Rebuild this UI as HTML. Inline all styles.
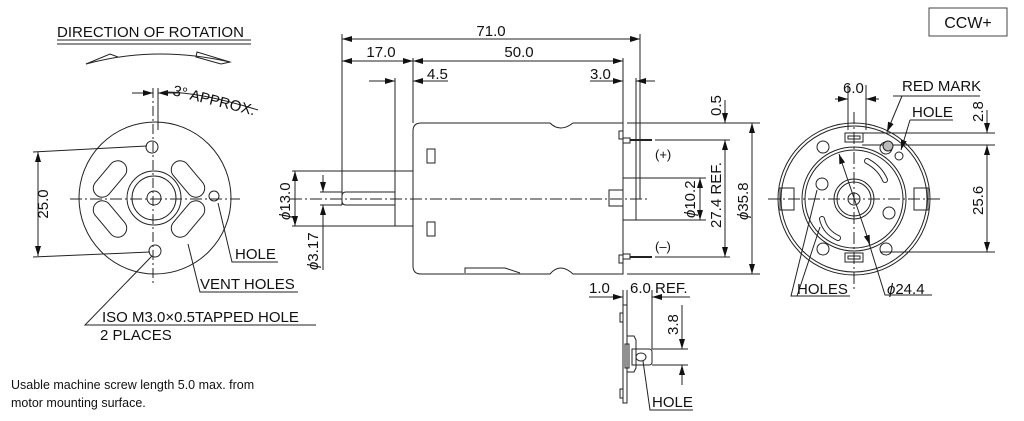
<!DOCTYPE html>
<html><head><meta charset="utf-8"><style>
html,body{margin:0;padding:0;background:#fff;}
svg{display:block}
text{font-family:"Liberation Sans",sans-serif;fill:#111;}
</style></head><body>
<svg width="1024" height="421" viewBox="0 0 1024 421" xmlns="http://www.w3.org/2000/svg">
<defs>
<marker id="a" viewBox="0 0 10 6" refX="10" refY="3" markerWidth="10" markerHeight="6" orient="auto-start-reverse" markerUnits="userSpaceOnUse"><path d="M0,0L10,3L0,6z" fill="#111"/></marker>
</defs>
<g stroke="#222" stroke-width="1" fill="none">
<!-- LEFT VIEW -->
<line x1="57" y1="40" x2="251" y2="40"/><line x1="57" y1="44" x2="251" y2="44"/>
<path d="M86,64 Q155,45 230,62"/>
<path d="M86,64 L110,54 L118,57"/><path d="M197,52 L230,62 L221,64 L196,57z"/>
<line x1="153" y1="88" x2="153" y2="285" stroke-dasharray="10,3,2,3"/>
<line x1="158" y1="88" x2="158" y2="130"/>
<line x1="70" y1="199" x2="240" y2="199" stroke-dasharray="12,3,2,3"/>
<line x1="132" y1="93" x2="153" y2="93" marker-end="url(#a)"/>
<line x1="180" y1="93" x2="158" y2="93" marker-end="url(#a)"/>
<path d="M165,92 Q200,92 258,110"/>
<circle cx="155" cy="198" r="76"/>
<circle cx="154" cy="198" r="27"/><circle cx="154" cy="198" r="22"/><circle cx="154" cy="198" r="7"/>
<circle cx="152" cy="147" r="6"/><circle cx="155" cy="251" r="6"/><circle cx="214" cy="196" r="5"/>
<rect x="101" y="158" width="18" height="42" rx="9" transform="rotate(40 110 179)"/>
<rect x="179" y="158" width="18" height="42" rx="9" transform="rotate(-40 188 179)"/>
<rect x="101" y="198" width="18" height="42" rx="9" transform="rotate(-40 110 219)"/>
<rect x="179" y="198" width="18" height="42" rx="9" transform="rotate(40 188 219)"/>
<line x1="33" y1="152" x2="147" y2="146"/><line x1="33" y1="257" x2="150" y2="252"/>
<line x1="38" y1="152" x2="38" y2="256" marker-start="url(#a)" marker-end="url(#a)"/>
<path d="M218,203 L232,262 L278,262"/>
<path d="M188,244 L200,292 L298,292"/>
<path d="M152,256 L85,325 L316,325"/>
<!-- MIDDLE -->
<line x1="342" y1="34" x2="342" y2="205"/><line x1="640" y1="34" x2="640" y2="199"/>
<line x1="342" y1="39" x2="640" y2="39" marker-start="url(#a)" marker-end="url(#a)"/>
<line x1="413" y1="58" x2="413" y2="123"/><line x1="623" y1="58" x2="623" y2="123"/>
<line x1="342" y1="61" x2="413" y2="61" marker-start="url(#a)" marker-end="url(#a)"/>
<line x1="413" y1="61" x2="623" y2="61" marker-start="url(#a)" marker-end="url(#a)"/>
<line x1="395" y1="78" x2="395" y2="171"/>
<line x1="369" y1="81" x2="395" y2="81" marker-end="url(#a)"/>
<line x1="448" y1="81" x2="413" y2="81" marker-end="url(#a)"/>
<line x1="590" y1="81" x2="623" y2="81" marker-end="url(#a)"/>
<line x1="655" y1="81" x2="636" y2="81" marker-end="url(#a)"/>
<line x1="636" y1="78" x2="636" y2="178"/>
<path d="M421,123 L550,123 Q560,133 573,123 L623,123 L623,274 L573,274 Q560,262 550,274 L421,274 Q413,274 413,266 L413,131 Q413,123 421,123z"/>
<path d="M465,273 L465,268 L505,268 L520,273"/>
<rect x="427" y="149" width="8" height="14"/><rect x="427" y="222" width="8" height="14"/>
<rect x="395" y="171" width="18" height="55"/>
<path d="M346,192 L395,192 L395,205 L346,205 Q342,205 342,201 L342,196 Q342,192 346,192z"/>
<rect x="623" y="178" width="13" height="42"/>
<rect x="609" y="190" width="14" height="16"/>
<line x1="290" y1="199" x2="650" y2="199" stroke-dasharray="12,3,2,3"/>
<rect x="619" y="131" width="4" height="8"/><rect x="619" y="255" width="4" height="8"/>
<path d="M623,138 L630,138 L630,143 L623,143"/><line x1="630" y1="140" x2="652" y2="140" stroke-width="2"/>
<path d="M623,254 L630,254 L630,259 L623,259"/><line x1="630" y1="257" x2="652" y2="257" stroke-width="2"/>
<line x1="627" y1="123" x2="760" y2="123"/><line x1="655" y1="140" x2="730" y2="140"/>
<line x1="636" y1="178" x2="706" y2="178"/><line x1="636" y1="220" x2="706" y2="220"/>
<line x1="655" y1="257" x2="730" y2="257"/><line x1="627" y1="274" x2="760" y2="274"/>
<line x1="725" y1="100" x2="725" y2="123" marker-end="url(#a)"/>
<line x1="725" y1="140" x2="725" y2="257" marker-start="url(#a)" marker-end="url(#a)"/>
<line x1="700" y1="178" x2="700" y2="220" marker-start="url(#a)" marker-end="url(#a)"/>
<line x1="752" y1="123" x2="752" y2="274" marker-start="url(#a)" marker-end="url(#a)"/>
<line x1="292" y1="171" x2="395" y2="171"/><line x1="292" y1="226" x2="395" y2="226"/>
<line x1="295" y1="171" x2="295" y2="226" marker-start="url(#a)" marker-end="url(#a)"/>
<line x1="320" y1="192" x2="342" y2="192"/><line x1="320" y1="205" x2="342" y2="205"/>
<line x1="323" y1="175" x2="323" y2="192" marker-end="url(#a)"/>
<line x1="323" y1="270" x2="323" y2="205" marker-end="url(#a)"/>
<!-- small bottom view -->
<line x1="589" y1="297" x2="623" y2="297" marker-end="url(#a)"/>
<line x1="690" y1="297" x2="652" y2="297" marker-end="url(#a)"/>
<line x1="623" y1="290" x2="623" y2="305"/><line x1="627" y1="290" x2="627" y2="305"/><line x1="652" y1="290" x2="652" y2="349"/>
<rect x="623" y="305" width="4" height="98"/>
<rect x="620" y="313" width="3" height="9"/><rect x="620" y="389" width="3" height="9"/>
<path d="M627,336 L634,336 L636,340 L636,368 L634,372 L627,372"/>
<rect x="625" y="344" width="4" height="24"/>
<path d="M632,349 L649,349 Q652,349 652,352 L652,362 Q652,365 649,365 L632,365z"/>
<ellipse cx="641" cy="357" rx="5" ry="4"/>
<line x1="652" y1="349" x2="688" y2="349"/><line x1="652" y1="365" x2="688" y2="365"/>
<line x1="682" y1="305" x2="682" y2="349" marker-end="url(#a)"/>
<line x1="682" y1="385" x2="682" y2="365" marker-end="url(#a)"/>
<path d="M643,361 L650,410 L693,410"/>
<!-- RIGHT VIEW -->
<rect x="929" y="8" width="78" height="28" stroke="#444"/>
<line x1="854" y1="112" x2="854" y2="290" stroke-dasharray="12,3,2,3"/>
<line x1="768" y1="199" x2="942" y2="199" stroke-dasharray="12,3,2,3"/>
<circle cx="854" cy="199" r="76"/><circle cx="854" cy="199" r="73"/>
<circle cx="854" cy="199" r="52"/><circle cx="854" cy="199" r="49"/>
<circle cx="854" cy="199" r="20"/><circle cx="854" cy="199" r="17"/><circle cx="854" cy="199" r="6"/>
<rect x="845" y="133" width="18" height="9"/><rect x="848" y="136" width="12" height="3"/>
<rect x="845" y="253" width="18" height="9"/><rect x="848" y="256" width="12" height="3"/>
<rect x="780" y="188" width="14" height="22"/><rect x="914" y="188" width="14" height="22"/>
<circle cx="823" cy="147" r="6"/><circle cx="822" cy="184" r="6"/><circle cx="823" cy="249" r="6"/>
<circle cx="886" cy="148" r="6"/><circle cx="899" cy="156" r="4"/><circle cx="889" cy="213" r="6"/><circle cx="886" cy="249" r="6"/>
<path d="M867,161 Q880,168 885,180" stroke-width="6" stroke-linecap="round"/>
<path d="M867,161 Q880,168 885,180" stroke-width="4" stroke="#fff" stroke-linecap="round"/>
<path d="M822,219 Q825,232 838,238" stroke-width="6" stroke-linecap="round"/>
<path d="M822,219 Q825,232 838,238" stroke-width="4" stroke="#fff" stroke-linecap="round"/>
<line x1="848" y1="85" x2="848" y2="130"/><line x1="866" y1="85" x2="866" y2="130"/>
<line x1="835" y1="99" x2="848" y2="99" marker-end="url(#a)"/>
<line x1="879" y1="99" x2="866" y2="99" marker-end="url(#a)"/>
<line x1="862" y1="133" x2="995" y2="133"/><line x1="862" y1="145" x2="995" y2="145"/><line x1="880" y1="252" x2="995" y2="252"/>
<line x1="987" y1="110" x2="987" y2="133" marker-end="url(#a)"/>
<line x1="987" y1="145" x2="987" y2="252" marker-start="url(#a)" marker-end="url(#a)"/>
<line x1="839" y1="154" x2="870" y2="245" marker-start="url(#a)" marker-end="url(#a)"/>
<path d="M868,240 L885,295 L932,295"/>
<path d="M893,96 L980,96"/><path d="M902,96 L887,132" marker-end="url(#a)"/>
<path d="M910,120 L953,120"/><path d="M910,120 L901,150" marker-end="url(#a)"/>
<path d="M817,190 L791,296 L850,296"/><path d="M820,227 L797,296"/>
</g>
<circle cx="888" cy="146" r="5" fill="#bbb" stroke="#222"/>
<!-- TEXT -->
<g font-size="15">
<text x="57" y="37">DIRECTION OF ROTATION</text>
<text x="172" y="95" transform="rotate(14 172 95)">3° APPROX.</text>
<text x="34" y="218" transform="rotate(-90 34 204)" text-anchor="middle">25.0</text>
<text x="235" y="259">HOLE</text>
<text x="200" y="289">VENT HOLES</text>
<text x="102" y="322">ISO M3.0×0.5TAPPED HOLE</text>
<text x="100" y="340">2 PLACES</text>
<text x="491" y="36" text-anchor="middle">71.0</text>
<text x="381" y="57" text-anchor="middle">17.0</text>
<text x="519" y="57" text-anchor="middle">50.0</text>
<text x="427" y="79">4.5</text>
<text x="590" y="79">3.0</text>
<text x="655" y="159" font-size="13">(+)</text>
<text x="655" y="251" font-size="13">(–)</text>
<text transform="translate(721,116) rotate(-90)">0.5</text>
<text transform="translate(721,228) rotate(-90)">27.4 REF.</text>
<text transform="translate(695,218) rotate(-90)"><tspan font-style="italic">ϕ</tspan>10.2</text>
<text transform="translate(748,220) rotate(-90)"><tspan font-style="italic">ϕ</tspan>35.8</text>
<text transform="translate(290,220) rotate(-90)"><tspan font-style="italic">ϕ</tspan>13.0</text>
<text transform="translate(318,270) rotate(-90)"><tspan font-style="italic">ϕ</tspan>3.17</text>
<text x="589" y="293">1.0</text>
<text x="630" y="293">6.0 REF.</text>
<text transform="translate(678,335) rotate(-90)">3.8</text>
<text x="652" y="407">HOLE</text>
<text x="968" y="28" text-anchor="middle" font-size="16">CCW+</text>
<text x="843" y="93">6.0</text>
<text x="902" y="91">RED MARK</text>
<text x="912" y="117">HOLE</text>
<text transform="translate(983,122) rotate(-90)">2.8</text>
<text transform="translate(983,215) rotate(-90)">25.6</text>
<text x="797" y="294">HOLES</text>
<text x="887" y="294"><tspan font-style="italic">ϕ</tspan>24.4</text>
</g>
<g font-size="12.5">
<text x="11" y="389">Usable machine screw length 5.0 max. from</text>
<text x="11" y="407">motor mounting surface.</text>
</g>
</svg>
</body></html>
